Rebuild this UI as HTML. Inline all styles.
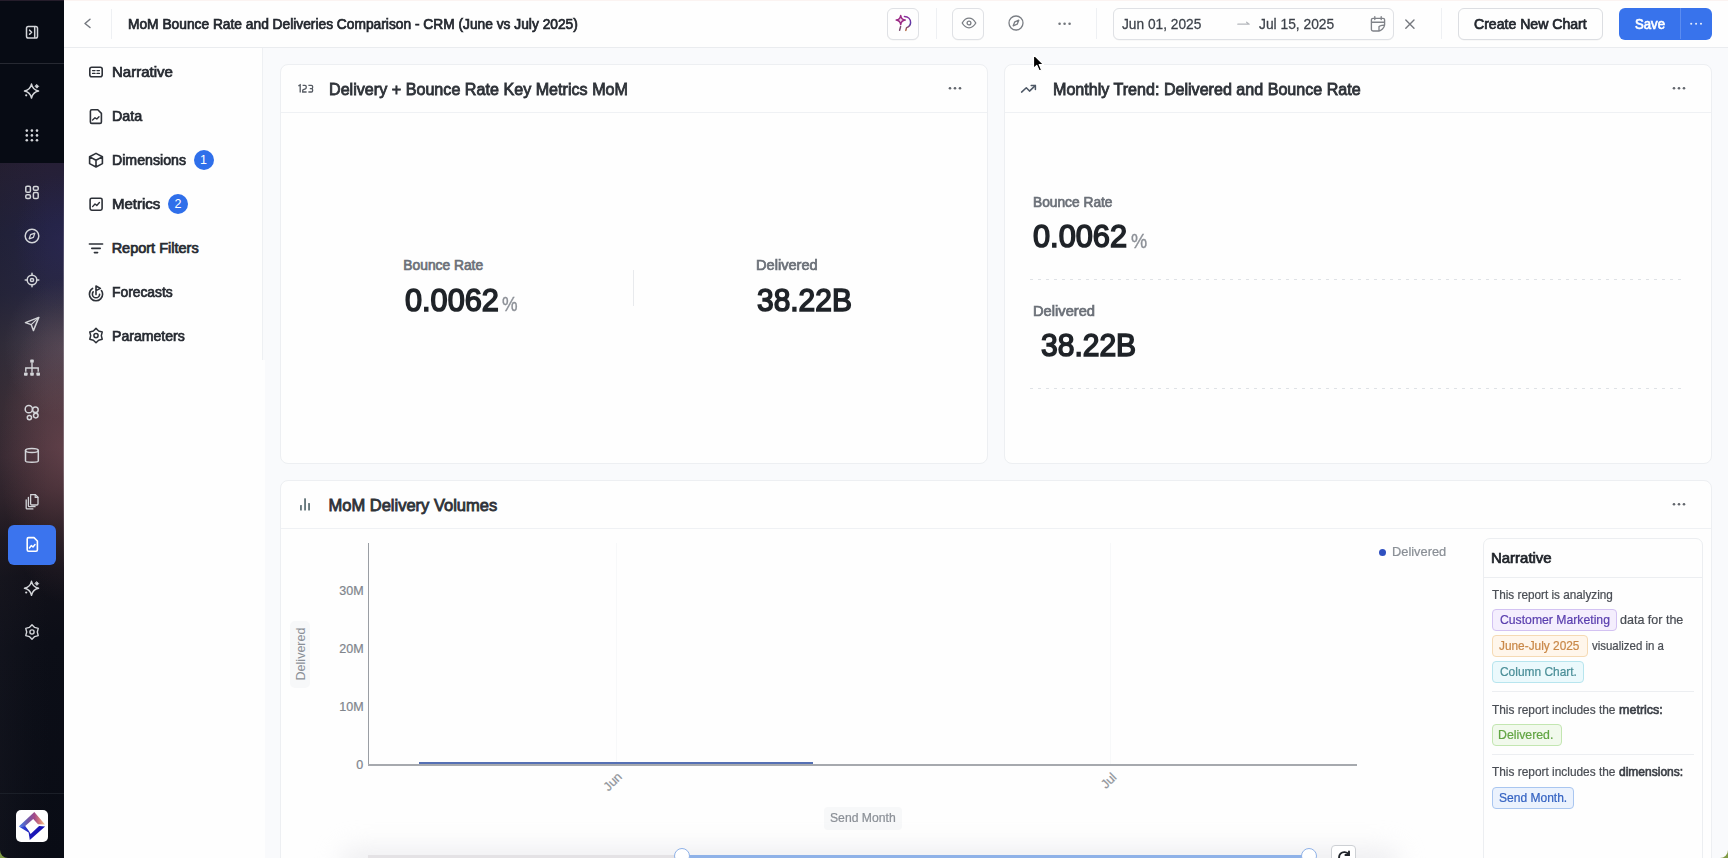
<!DOCTYPE html>
<html><head><meta charset="utf-8">
<style>
*{box-sizing:border-box;margin:0;padding:0}
html,body{width:1728px;height:858px;overflow:hidden;font-family:"Liberation Sans",sans-serif;background:#f9fafc;color:#1f2329;position:relative}
.abs{position:absolute}
.t{position:absolute;line-height:1;white-space:nowrap;transform-origin:0 0}
svg{position:absolute;overflow:visible}
#side{position:absolute;left:0;top:0;width:64px;height:858px;background:#070b14;overflow:hidden}
#grad{position:absolute;left:0;top:163px;width:64px;height:695px;
 background:linear-gradient(170deg,#271f35 0px,#22223f 70px,#27263f 130px,#37313f 180px,#42323a 240px,#432f37 290px,#35252c 330px,#1e171d 370px,#121119 410px,#0c0e17 480px,#090c15 695px)}
#grad2{position:absolute;left:0;top:163px;width:64px;height:695px;
 background:radial-gradient(ellipse 64px 150px at 64px 290px,rgba(140,90,100,0.38),rgba(140,90,100,0) 100%),radial-gradient(ellipse 60px 70px at 64px 185px,rgba(150,135,150,0.22),rgba(150,135,150,0) 100%),radial-gradient(ellipse 50px 70px at 64px 80px,rgba(60,50,140,0.18),rgba(60,50,140,0) 100%),linear-gradient(90deg,rgba(30,30,40,0.30) 0%,rgba(30,30,40,0.08) 50%,rgba(0,0,0,0) 75%)}
#top{position:absolute;left:64px;top:0;width:1664px;height:48px;background:#fefefe;border-bottom:1px solid #eaecef}
#lp{position:absolute;left:64px;top:48px;width:199px;height:312px;background:#fefefe;border-right:1px solid #eef0f3}
#lp2{position:absolute;left:64px;top:360px;width:200.5px;height:498px;background:#fefefe}
.card{position:absolute;background:#fefefe;border:1px solid #edeff2;border-radius:8px}
.chead{position:absolute;left:0;top:0;right:0;height:48px;border-bottom:1px solid #eff1f4}
.badge{position:absolute;width:20px;height:20px;border-radius:10px;background:#2f6fea;color:#fff;font-size:12.5px;text-align:center;line-height:20px}
.btn{position:absolute;border:1px solid #dfe1e5;border-radius:6px;background:#fefefe;box-shadow:0 0.5px 0.5px rgba(0,0,0,0.05)}
.pill{position:absolute;border-radius:4px;border:1px solid}
</style></head>
<body>
<!-- ============ SIDEBAR ============ -->
<div id="side">
  <div class="abs" style="left:0;top:0;width:64px;height:1px;background:#251d2b"></div>
  <div class="abs" style="left:0;top:63px;width:64px;height:1px;background:#262932"></div>
  <div id="grad"></div><div id="grad2"></div>
  <div class="abs" style="left:0;top:793px;width:64px;height:1px;background:#1b1f28"></div>
  <div class="abs" style="left:63px;top:170px;width:1px;height:400px;background:linear-gradient(180deg,rgba(190,185,195,0) 0%,rgba(190,185,195,0.35) 25%,rgba(190,185,195,0.35) 75%,rgba(190,185,195,0) 100%)"></div>
  <!-- active -->
  <div class="abs" style="left:8px;top:525px;width:48px;height:40px;border-radius:6px;background:#3b74ee"></div>
  <!-- logo -->
  <div class="abs" style="left:16px;top:810px;width:32px;height:32px;border-radius:5px;background:#fefefe"></div>
</div>
<svg width="64" height="858" style="left:0;top:0" fill="none" stroke="#d3d5d9" stroke-width="1.5" stroke-linecap="round" stroke-linejoin="round">
  <!-- collapse -->
  <rect x="26.5" y="26.5" width="11" height="11.5" rx="1.8"/>
  <line x1="34.7" y1="27" x2="34.7" y2="37.5"/>
  <path d="M29.6 30.2 L31.6 32.2 L29.6 34.2" stroke-width="1.6"/>
  <!-- sparkle 1 -->
  <path d="M31.50 84.10 Q32.76 89.84 38.50 91.10 Q32.76 92.36 31.50 98.10 Q30.24 92.36 24.50 91.10 Q30.24 89.84 31.50 84.10 Z" stroke-width="1.5"/>
  <path d="M36.9 84.6 L38.7 86.4 L36.9 88.2 L35.1 86.4 Z" fill="#d3d5d9" stroke-width="0.8"/>
  <circle cx="26.2" cy="95.3" r="1.1" fill="#d3d5d9" stroke="none"/>
  <!-- grid dots -->
  <g fill="#d3d5d9" stroke="none">
    <circle cx="26.8" cy="130.6" r="1.3"/><circle cx="31.9" cy="130.6" r="1.3"/><circle cx="37" cy="130.6" r="1.3"/>
    <circle cx="26.8" cy="135.4" r="1.3"/><circle cx="31.9" cy="135.4" r="1.3"/><circle cx="37" cy="135.4" r="1.3"/>
    <circle cx="26.8" cy="140.2" r="1.3"/><circle cx="31.9" cy="140.2" r="1.3"/><circle cx="37" cy="140.2" r="1.3"/>
  </g>
  <!-- dashboard -->
  <rect x="25.8" y="186.2" width="4.6" height="6" rx="1.3"/>
  <rect x="33.4" y="186.4" width="4.8" height="3.8" rx="1.3"/>
  <rect x="25.8" y="194.8" width="4.6" height="3.8" rx="1.3"/>
  <rect x="33.4" y="192.6" width="4.8" height="6" rx="1.3"/>
  <!-- compass -->
  <circle cx="32" cy="236" r="6.8"/>
  <path d="M34.8 233.2 L33.4 237.4 L29.2 238.8 L30.6 234.6 Z" stroke-width="1.3"/>
  <!-- target -->
  <circle cx="32" cy="280" r="4.8"/>
  <circle cx="32" cy="280" r="1.6"/>
  <path d="M32 273.2 v2 M32 284.8 v2 M25.2 280 h2 M36.8 280 h2"/>
  <!-- send -->
  <path d="M38.8 317.4 L25.4 322.6 L31.2 324.6 L33.4 330.6 Z"/>
  <path d="M31.2 324.6 L38.6 317.6" stroke-width="1.3"/>
  <!-- hierarchy -->
  <g fill="#d3d5d9" stroke="none">
    <rect x="30.2" y="359.6" width="3.6" height="3.2" rx="0.8"/>
    <rect x="24" y="372.4" width="3.6" height="3.4" rx="0.8"/>
    <rect x="30.2" y="372.4" width="3.6" height="3.4" rx="0.8"/>
    <rect x="36.4" y="372.4" width="3.6" height="3.4" rx="0.8"/>
  </g>
  <path d="M32 362.8 V372.4 M25.8 371.8 V368 H38.2 V371.8" stroke-width="1.4" stroke-linecap="butt" stroke-linejoin="miter"/>
  <!-- circles -->
  <circle cx="28.8" cy="409.2" r="3.6"/>
  <circle cx="35.4" cy="409.8" r="2.8"/>
  <circle cx="29.4" cy="417.6" r="2.1"/>
  <circle cx="35.8" cy="415.6" r="2.3"/>
  <!-- database -->
  <ellipse cx="31.9" cy="450.6" rx="6.4" ry="2"/>
  <path d="M25.5 450.6 V461 C25.5 462.6 38.3 462.6 38.3 461 V450.6"/>
  <!-- copies -->
  <path d="M30.6 494.6 h4.8 l2.6 2.6 v6.6 c0 0.8 -0.4 1.2 -1.2 1.2 h-5 c-0.8 0 -1.2 -0.4 -1.2 -1.2 v-8 c0 -0.8 0.4 -1.2 1 -1.2 z" stroke-width="1.3"/>
  <path d="M35.2 494.8 v2.6 h2.6" stroke-width="1.2"/>
  <path d="M28.4 497.4 v8.4 c0 0.6 0.3 0.9 0.9 0.9 h5.8" stroke-width="1.3"/>
  <path d="M26.2 499.8 v8.2 c0 0.6 0.3 0.9 0.9 0.9 h5.8" stroke-width="1.3"/>
  <!-- active doc -->
  <path d="M28.6 537.6 h5.4 l3.4 3.4 v8.8 c0 0.9 -0.5 1.4 -1.4 1.4 h-7.4 c-0.9 0 -1.4 -0.5 -1.4 -1.4 v-10.8 c0 -0.9 0.5 -1.4 1.4 -1.4 z" stroke="#ffffff" stroke-width="1.6"/>
  <path d="M29.4 548 l2 -2.4 l1.6 1.4 l2 -2.4" stroke="#ffffff" stroke-width="1.5"/>
  <!-- sparkle 2 -->
  <path d="M31.50 581.30 Q32.76 587.04 38.50 588.30 Q32.76 589.56 31.50 595.30 Q30.24 589.56 24.50 588.30 Q30.24 587.04 31.50 581.30 Z" stroke-width="1.5"/>
  <path d="M36.9 581.8 L38.7 583.6 L36.9 585.4 L35.1 583.6 Z" fill="#d3d5d9" stroke-width="0.8"/>
  <circle cx="26.2" cy="592.5" r="1.1" fill="#d3d5d9" stroke="none"/>
  <!-- gear -->
  <path d="M32.00 624.80 L34.65 627.41 L38.24 628.40 L37.30 632.00 L38.24 635.60 L34.65 636.59 L32.00 639.20 L29.35 636.59 L25.76 635.60 L26.70 632.00 L25.76 628.40 L29.35 627.41 Z" stroke-width="1.4"/>
  <circle cx="32" cy="632" r="2.1" stroke-width="1.4"/>
</svg>
<!-- logo mark -->
<svg width="32" height="32" style="left:16px;top:810px" stroke="none">
  <defs>
    <linearGradient id="lg1" x1="2.8" y1="0" x2="29" y2="0" gradientUnits="userSpaceOnUse"><stop offset="0" stop-color="#3d78ee"/><stop offset="0.35" stop-color="#7058a8"/><stop offset="0.6" stop-color="#a44a88"/><stop offset="0.8" stop-color="#d47c7c"/><stop offset="1" stop-color="#f6d290"/></linearGradient>
    <linearGradient id="lg2" x1="2.8" y1="0" x2="29" y2="0" gradientUnits="userSpaceOnUse"><stop offset="0" stop-color="#3a5ee0"/><stop offset="0.45" stop-color="#1c18b8"/><stop offset="1" stop-color="#1210b0"/></linearGradient>
  </defs>
  <path d="M2.8 16.4 L18.3 2 L29 14.6 L22 14.2 L17.2 9 L9.2 16 Z" fill="url(#lg1)"/>
  <path d="M2.8 16.4 L9.2 16 L12.9 20.9 L14.6 23.9 L23.1 16 L29.1 16.4 L13.8 29.9 L12.6 22.6 Z" fill="url(#lg2)"/>
</svg>

<!-- ============ TOPBAR ============ -->
<div id="top"></div>
<div class="abs" style="left:0;top:0;width:1728px;height:1px;background:#fbf3f1;left:64px"></div>
<svg width="20" height="20" style="left:80px;top:14px" fill="none" stroke="#74787f" stroke-width="1.5" stroke-linecap="round" stroke-linejoin="round">
  <path d="M10 5.3 L5 9.5 L10 13.5"/>
</svg>
<div class="abs" style="left:111px;top:9px;width:1px;height:30px;background:#eef0f3"></div>

<div class="btn" style="left:887px;top:7.5px;width:32px;height:32px"></div>
<svg width="20" height="20" style="left:893px;top:13px" fill="none" stroke-linecap="round" stroke-linejoin="round">
  <defs><linearGradient id="ag" x1="0" y1="0" x2="0" y2="1"><stop offset="0" stop-color="#8a2f9e"/><stop offset="0.55" stop-color="#5a3aa8"/><stop offset="1" stop-color="#b0603a"/></linearGradient></defs>
  <path d="M7.7 2.6 Q8.3 6.5 12.2 7.1 Q8.3 7.7 7.7 11.6 Q7.1 7.7 3.2 7.1 Q7.1 6.5 7.7 2.6 Z" fill="#f4d8ee" stroke="#9b2a85" stroke-width="1.5"/>
  <path d="M11.4 3.4 C15 3.6 17.8 6 17.6 9.6 C17.4 12.4 15.6 14 13.6 14.6 L12.8 17.4" stroke="url(#ag)" stroke-width="1.5"/>
  <path d="M7.6 13.6 L6.6 17.2" stroke="#7a4a70" stroke-width="1.5"/>
</svg>
<div class="abs" style="left:936px;top:8px;width:1px;height:31px;background:#eef0f3"></div>
<div class="btn" style="left:952px;top:7.5px;width:32px;height:32px"></div>
<svg width="20" height="20" style="left:958.5px;top:13px" fill="none" stroke="#7a7e84" stroke-width="1.3" stroke-linecap="round" stroke-linejoin="round">
  <path d="M3.2 10 C5.2 6.6 7.4 5.2 10 5.2 C12.6 5.2 14.8 6.6 16.8 10 C14.8 13.4 12.6 14.8 10 14.8 C7.4 14.8 5.2 13.4 3.2 10 Z"/>
  <circle cx="10" cy="10" r="1.9"/>
</svg>
<svg width="20" height="20" style="left:1006.4px;top:13.4px" fill="none" stroke="#7a7e84" stroke-width="1.3" stroke-linecap="round" stroke-linejoin="round">
  <circle cx="10" cy="10" r="7"/>
  <path d="M12.8 7.2 L11.2 11.2 L7.2 12.8 L8.8 8.8 Z"/>
</svg>
<svg width="20" height="10" style="left:1054.5px;top:18.5px" fill="#72767c" stroke="none">
  <circle cx="4.6" cy="4.7" r="1.3"/><circle cx="9.6" cy="4.7" r="1.3"/><circle cx="14.6" cy="4.7" r="1.3"/>
</svg>
<div class="abs" style="left:1096px;top:8px;width:1px;height:31px;background:#eef0f3"></div>
<div class="btn" style="left:1113px;top:7.5px;width:281px;height:32px"></div>
<svg width="20" height="10" style="left:1235px;top:19px" fill="none" stroke="#b4b7bc" stroke-width="1.2" stroke-linecap="round">
  <path d="M2.8 5.2 H14.2 M11.6 3.2 L14.2 5.2"/>
</svg>
<svg width="20" height="20" style="left:1367.5px;top:13.5px" fill="none" stroke="#808389" stroke-width="1.35" stroke-linecap="round" stroke-linejoin="round">
  <path d="M16.6 11 V5.8 C16.6 4.8 16 4.4 15 4.4 H5 C4 4.4 3.4 4.8 3.4 5.8 V15.6 C3.4 16.6 4 17 5 17 H11 M3.4 8.2 H16.6 M6.8 2.6 V5.6 M13.2 2.6 V5.6 M11 17 C13 16.8 16.4 13.8 16.6 11 C14.8 11.2 11.8 11.2 11 12.6 Z"/>
</svg>
<svg width="20" height="20" style="left:1399.5px;top:13.5px" fill="none" stroke="#76797f" stroke-width="1.4" stroke-linecap="round">
  <path d="M5.8 6 L14 14.2 M14 6 L5.8 14.2"/>
</svg>
<div class="abs" style="left:1441px;top:8px;width:1px;height:31px;background:#eef0f3"></div>
<div class="btn" style="left:1458px;top:7.5px;width:145px;height:32px;border-color:#dcdee2"></div>
<div class="abs" style="left:1619px;top:7.5px;width:93px;height:32px;border-radius:6px;background:#3873ec"></div>
<div class="abs" style="left:1680px;top:8px;width:1px;height:31px;background:#5b8cf0"></div>
<svg width="20" height="10" style="left:1686px;top:19px" fill="#e3ebfc" stroke="none">
  <circle cx="5.2" cy="4.8" r="1.05"/><circle cx="10.1" cy="4.8" r="1.05"/><circle cx="15" cy="4.8" r="1.05"/>
</svg>

<!-- ============ LEFT PANEL ============ -->
<div id="lp"></div><div id="lp2"></div>
<svg width="200" height="300" style="left:64px;top:48px" fill="none" stroke="#2d3138" stroke-width="1.6" stroke-linecap="round" stroke-linejoin="round">
  <!-- narrative -->
  <rect x="25.8" y="19.2" width="12.4" height="9.6" rx="2"/>
  <path d="M28.6 22.6 h2.4 M33 22.6 h2.4 M28.6 25.4 h2.4 M33 25.4 h2.4" stroke-width="1.4"/>
  <!-- data -->
  <path d="M27.8 61.8 h6 l3.6 3.6 v8.6 c0 0.9 -0.5 1.4 -1.4 1.4 h-8.2 c-0.9 0 -1.4 -0.5 -1.4 -1.4 v-10.8 c0 -0.9 0.5 -1.4 1.4 -1.4 z"/>
  <path d="M28.6 72 l2.4 -2.2 l1.8 1.2 l2.2 -2.2" stroke-width="1.4"/>
  <!-- cube -->
  <path d="M32 105.4 L38.4 108.8 V115.6 L32 119 L25.6 115.6 V108.8 Z M25.8 108.9 L32 112.2 L38.2 108.9 M32 112.2 V118.8"/>
  <!-- metrics -->
  <rect x="26.1" y="150.2" width="12" height="12" rx="1.6"/>
  <path d="M28.6 158.6 l2.4 -2.6 l1.8 1.4 l2.6 -2.8" stroke-width="1.4"/>
  <!-- filters -->
  <path d="M25.4 196 H38.6 M27.8 200.4 H36.2 M30.4 204.6 H33.6" stroke-width="1.6"/>
  <!-- forecasts -->
  <path d="M28.6 240.4 C26.6 241.6 25.4 243.8 25.4 246.2 C25.4 249.8 28.4 252.8 32 252.8 C35.6 252.8 38.6 249.8 38.6 246.2 C38.6 244.8 38.2 243.6 37.4 242.6"/>
  <path d="M29.2 243.8 C28.6 244.6 28.4 245.4 28.4 246.2 C28.4 248.2 30 249.8 32 249.8 C34 249.8 35.6 248.2 35.6 246.2"/>
  <path d="M32 246.6 V238 L36.4 240.4 L32 242.6"/>
  <!-- gear -->
  <path d="M32.00 280.40 L34.65 283.01 L38.24 284.00 L37.30 287.60 L38.24 291.20 L34.65 292.19 L32.00 294.80 L29.35 292.19 L25.76 291.20 L26.70 287.60 L25.76 284.00 L29.35 283.01 Z" stroke-width="1.5"/>
  <circle cx="32" cy="287.6" r="2.1" stroke-width="1.5"/>
</svg>
<div class="badge" style="left:193.5px;top:150px">1</div>
<div class="badge" style="left:168px;top:194px">2</div>

<!-- ============ CARDS ============ -->
<div class="card" style="left:280px;top:64px;width:708px;height:400px"><div class="chead"></div></div>
<div class="card" style="left:1004px;top:64px;width:708px;height:400px"><div class="chead"></div></div>
<div class="card" style="left:280px;top:480px;width:1432px;height:390px"><div class="chead"></div></div>

<!-- card icons -->
<svg width="20" height="14" style="left:296px;top:82px" fill="none" stroke="#555a62" stroke-width="1.3" stroke-linejoin="miter" stroke-linecap="butt">
  <path d="M2.4 3.8 L4.2 2.9 V10.6"/>
  <path d="M6.6 3.3 H9 C9.8 3.3 10.2 3.7 10.2 4.5 V5.7 C10.2 6.3 9.9 6.6 9.4 6.8 L7.4 7.6 C6.9 7.8 6.7 8.1 6.7 8.6 V10 H10.6"/>
  <path d="M12.4 3.3 H15.4 C16.2 3.3 16.6 3.7 16.6 4.5 V5.4 C16.6 6.2 16.2 6.6 15.4 6.6 H13.8 M15.4 6.6 C16.2 6.6 16.6 7 16.6 7.8 V8.8 C16.6 9.6 16.2 10 15.4 10 H12.4"/>
</svg>
<svg width="16" height="8" style="left:946px;top:84px" fill="#62666d"><circle cx="4" cy="4.2" r="1.3"/><circle cx="9" cy="4.2" r="1.3"/><circle cx="14" cy="4.2" r="1.3"/></svg>
<svg width="20" height="14" style="left:1019px;top:81px" fill="none" stroke="#4e5866" stroke-width="1.5" stroke-linecap="round" stroke-linejoin="round">
  <path d="M2.6 11.1 L7.3 6.7 L10.5 10.1 L16.2 4.6"/><path d="M12.2 4.4 H16.4 V8.4"/>
</svg>
<svg width="16" height="8" style="left:1670px;top:84px" fill="#62666d"><circle cx="4" cy="4.2" r="1.3"/><circle cx="9" cy="4.2" r="1.3"/><circle cx="14" cy="4.2" r="1.3"/></svg>
<svg width="16" height="16" style="left:296px;top:497px" fill="#56696f" stroke="none">
  <rect x="4.1" y="8" width="1.7" height="5.6" rx="0.5"/><rect x="8.2" y="1.3" width="1.7" height="12.3" rx="0.5"/><rect x="12.2" y="6" width="1.7" height="7.6" rx="0.5"/>
</svg>
<svg width="16" height="8" style="left:1670px;top:500px" fill="#62666d"><circle cx="4" cy="4.2" r="1.3"/><circle cx="9" cy="4.2" r="1.3"/><circle cx="14" cy="4.2" r="1.3"/></svg>

<!-- card 1 divider -->
<div class="abs" style="left:633px;top:270px;width:1px;height:36px;background:#e8eaed"></div>
<!-- card 2 dashed lines -->
<div class="abs" style="left:1030px;top:279px;width:654px;height:1px;background:repeating-linear-gradient(90deg,#dfe2e6 0 3px,transparent 3px 8px)"></div>
<div class="abs" style="left:1030px;top:388px;width:654px;height:1px;background:repeating-linear-gradient(90deg,#dfe2e6 0 3px,transparent 3px 8px)"></div>

<!-- ============ CHART ============ -->
<div class="abs" style="left:368px;top:543px;width:1px;height:222px;background:#9a9ea4"></div>
<div class="abs" style="left:368px;top:764px;width:989px;height:1.5px;background:#a6a9ae"></div>
<div class="abs" style="left:616px;top:543px;width:1px;height:221px;background:#f7f8f9"></div>
<div class="abs" style="left:1110px;top:543px;width:1px;height:221px;background:#f7f8f9"></div>
<div class="abs" style="left:419px;top:762px;width:394px;height:2px;background:#5570b4"></div>
<div class="abs" style="left:290px;top:621px;left:290px;width:20px;height:67px;border-radius:5px;background:#f7f8f9"></div>
<div class="abs" style="left:824px;top:807px;width:78px;height:23px;border-radius:4px;background:#f7f8f9"></div>
<div class="abs" style="left:1378.5px;top:548.5px;width:7px;height:7px;border-radius:4px;background:#2f50c0"></div>
<div class="t" style="left:654px;top:0;font-size:12.5px;color:#8a8f96"></div>

<!-- slider / bottom fog -->
<div class="abs" style="left:340px;top:848px;width:1060px;height:30px;border-radius:30px;background:rgba(228,229,233,0.6);filter:blur(12px)"></div>
<div class="abs" style="left:368px;top:854.5px;width:314px;height:4px;background:#e4e2e5"></div>
<div class="abs" style="left:682px;top:854.5px;width:627px;height:4px;background:#8fb2e8"></div>
<div class="abs" style="left:674px;top:848px;width:16px;height:16px;border-radius:8px;background:#fff;border:1.6px solid #8fb2e8"></div>
<div class="abs" style="left:1301px;top:848px;width:16px;height:16px;border-radius:8px;background:#fff;border:1.6px solid #8fb2e8"></div>
<div class="abs" style="left:1330.5px;top:844.5px;width:25px;height:24px;border-radius:4px;background:#fff;border:1.3px solid #cdd0d4"></div>
<svg width="20" height="20" style="left:1333.5px;top:847px" fill="none" stroke="#1f2329" stroke-width="1.9" stroke-linecap="round"><path d="M14.6 7.4 A5.2 5.2 0 1 0 15.2 12"/><path d="M15 4.4 V8 H11.4"/></svg>

<!-- narrative box -->
<div class="abs" style="left:1483px;top:537.5px;width:220px;height:340px;border:1px solid #eceef1;border-radius:7px;background:#fefefe"></div>
<div class="abs" style="left:1484px;top:577px;width:218px;height:1px;background:#eceef1"></div>
<div class="abs" style="left:1492px;top:691px;width:202px;height:1px;background:#eceef1"></div>
<div class="abs" style="left:1492px;top:754px;width:202px;height:1px;background:#eceef1"></div>
<div class="pill" style="left:1492px;top:609px;width:125px;height:22px;background:#f4eefd;border-color:#d3c2f2"></div>
<div class="pill" style="left:1492px;top:635px;width:96px;height:22px;background:#fff6eb;border-color:#f5dab4"></div>
<div class="pill" style="left:1492px;top:661px;width:92px;height:22px;background:#ebf9fc;border-color:#b7e5ee"></div>
<div class="pill" style="left:1492px;top:724px;width:70px;height:22px;background:#f1f9ec;border-color:#c3e6b1"></div>
<div class="pill" style="left:1492px;top:787px;width:82px;height:22px;background:#ebf2fd;border-color:#a9c6f0"></div>

<div class="t" style="left:127.58px;top:16.57px;font-size:14.5px;font-weight:normal;color:#23272e;-webkit-text-stroke:0.73px #23272e;transform:scaleX(0.9493);">MoM Bounce Rate and Deliveries Comparison - CRM (June vs July 2025)</div>
<div class="t" style="left:1121.68px;top:16.78px;font-size:14.5px;font-weight:normal;color:#3d424a;-webkit-text-stroke:0.26px #3d424a;transform:scaleX(0.9462);">Jun 01, 2025</div>
<div class="t" style="left:1259.49px;top:16.78px;font-size:14.5px;font-weight:normal;color:#3d424a;-webkit-text-stroke:0.26px #3d424a;transform:scaleX(0.9521);">Jul 15, 2025</div>
<div class="t" style="left:1473.73px;top:16.68px;font-size:14.5px;font-weight:normal;color:#23272e;-webkit-text-stroke:0.73px #23272e;transform:scaleX(0.9707);">Create New Chart</div>
<div class="t" style="left:1634.72px;top:16.68px;font-size:14.5px;font-weight:normal;color:#ffffff;-webkit-text-stroke:0.73px #ffffff;transform:scaleX(0.9075);">Save</div>
<div class="t" style="left:111.71px;top:64.97px;font-size:14.5px;font-weight:normal;color:#262a31;-webkit-text-stroke:0.73px #262a31;transform:scaleX(1.0358);">Narrative</div>
<div class="t" style="left:111.76px;top:108.97px;font-size:14.5px;font-weight:normal;color:#262a31;-webkit-text-stroke:0.73px #262a31;transform:scaleX(0.9863);">Data</div>
<div class="t" style="left:111.74px;top:152.98px;font-size:14.5px;font-weight:normal;color:#262a31;-webkit-text-stroke:0.73px #262a31;transform:scaleX(0.9765);">Dimensions</div>
<div class="t" style="left:111.67px;top:196.98px;font-size:14.5px;font-weight:normal;color:#262a31;-webkit-text-stroke:0.73px #262a31;transform:scaleX(1.0352);">Metrics</div>
<div class="t" style="left:111.63px;top:240.98px;font-size:14.5px;font-weight:normal;color:#262a31;-webkit-text-stroke:0.73px #262a31;">Report Filters</div>
<div class="t" style="left:111.79px;top:284.98px;font-size:14.5px;font-weight:normal;color:#262a31;-webkit-text-stroke:0.73px #262a31;transform:scaleX(0.9537);">Forecasts</div>
<div class="t" style="left:111.75px;top:328.98px;font-size:14.5px;font-weight:normal;color:#262a31;-webkit-text-stroke:0.73px #262a31;transform:scaleX(0.9723);">Parameters</div>
<div class="t" style="left:328.97px;top:80.57px;font-size:16.5px;font-weight:normal;color:#2e3238;-webkit-text-stroke:0.83px #2e3238;transform:scaleX(0.9777);">Delivery + Bounce Rate Key Metrics MoM</div>
<div class="t" style="left:1052.77px;top:80.57px;font-size:16.5px;font-weight:normal;color:#2e3238;-webkit-text-stroke:0.83px #2e3238;transform:scaleX(0.9752);">Monthly Trend: Delivered and Bounce Rate</div>
<div class="t" style="left:328.51px;top:496.68px;font-size:16.5px;font-weight:normal;color:#2e3238;-webkit-text-stroke:0.83px #2e3238;">MoM Delivery Volumes</div>
<div class="t" style="left:403.34px;top:258.87px;font-size:13.8px;font-weight:normal;color:#6b7078;-webkit-text-stroke:0.69px #6b7078;">Bounce Rate</div>
<div class="t" style="left:404.57px;top:283.50px;font-size:32px;font-weight:normal;color:#1f2328;-webkit-text-stroke:1.60px #1f2328;transform:scaleX(0.9594);">0.0062</div>
<div class="t" style="left:502.39px;top:293.70px;font-size:20px;font-weight:normal;color:#8c9097;-webkit-text-stroke:0.36px #8c9097;transform:scaleX(0.8749);">%</div>
<div class="t" style="left:756.06px;top:258.87px;font-size:13.8px;font-weight:normal;color:#6b7078;-webkit-text-stroke:0.69px #6b7078;transform:scaleX(1.0595);">Delivered</div>
<div class="t" style="left:757.40px;top:283.60px;font-size:32px;font-weight:normal;color:#1f2328;-webkit-text-stroke:1.60px #1f2328;transform:scaleX(0.9356);">38.22B</div>
<div class="t" style="left:1032.67px;top:195.67px;font-size:13.8px;font-weight:normal;color:#6b7078;-webkit-text-stroke:0.69px #6b7078;transform:scaleX(0.9965);">Bounce Rate</div>
<div class="t" style="left:1033.13px;top:220.82px;font-size:31.5px;font-weight:normal;color:#1f2328;-webkit-text-stroke:1.58px #1f2328;transform:scaleX(0.9765);">0.0062</div>
<div class="t" style="left:1131.39px;top:230.60px;font-size:20px;font-weight:normal;color:#8c9097;-webkit-text-stroke:0.36px #8c9097;transform:scaleX(0.9084);">%</div>
<div class="t" style="left:1032.64px;top:305.07px;font-size:13.8px;font-weight:normal;color:#6b7078;-webkit-text-stroke:0.69px #6b7078;transform:scaleX(1.0641);">Delivered</div>
<div class="t" style="left:1041.19px;top:330.03px;font-size:31.5px;font-weight:normal;color:#1f2328;-webkit-text-stroke:1.58px #1f2328;transform:scaleX(0.9530);">38.22B</div>
<div class="t" style="left:339.30px;top:584.88px;font-size:12.5px;font-weight:normal;color:#80858c;-webkit-text-stroke:0.22px #80858c;">30M</div>
<div class="t" style="left:339.30px;top:642.78px;font-size:12.5px;font-weight:normal;color:#80858c;-webkit-text-stroke:0.22px #80858c;">20M</div>
<div class="t" style="left:339.30px;top:700.58px;font-size:12.5px;font-weight:normal;color:#80858c;-webkit-text-stroke:0.22px #80858c;">10M</div>
<div class="t" style="left:356.20px;top:758.58px;font-size:12.5px;font-weight:normal;color:#80858c;-webkit-text-stroke:0.22px #80858c;">0</div>
<div class="t" style="left:1392.44px;top:545.67px;font-size:12.5px;font-weight:normal;color:#8a8f96;-webkit-text-stroke:0.22px #8a8f96;transform:scaleX(1.0263);">Delivered</div>
<div class="t" style="left:830.45px;top:811.88px;font-size:12.5px;font-weight:normal;color:#8a8f96;-webkit-text-stroke:0.22px #8a8f96;transform:scaleX(0.9745);">Send Month</div>
<div class="t" style="left:1490.91px;top:550.67px;font-size:14.5px;font-weight:normal;color:#1f2329;-webkit-text-stroke:0.73px #1f2329;transform:scaleX(1.0314);">Narrative</div>
<div class="t" style="left:1492.02px;top:588.82px;font-size:12.8px;font-weight:normal;color:#4a4e55;-webkit-text-stroke:0.23px #4a4e55;transform:scaleX(0.9188);">This report is analyzing</div>
<div class="t" style="left:1499.62px;top:613.52px;font-size:12.8px;font-weight:normal;color:#5a3fae;-webkit-text-stroke:0.23px #5a3fae;transform:scaleX(0.9541);">Customer Marketing</div>
<div class="t" style="left:1620.07px;top:613.52px;font-size:12.8px;font-weight:normal;color:#4a4e55;-webkit-text-stroke:0.23px #4a4e55;transform:scaleX(0.9779);">data for the</div>
<div class="t" style="left:1499.38px;top:639.72px;font-size:12.8px;font-weight:normal;color:#c98848;-webkit-text-stroke:0.23px #c98848;transform:scaleX(0.9269);">June-July 2025</div>
<div class="t" style="left:1592.39px;top:639.72px;font-size:12.8px;font-weight:normal;color:#4a4e55;-webkit-text-stroke:0.23px #4a4e55;transform:scaleX(0.8942);">visualized in a</div>
<div class="t" style="left:1499.83px;top:665.92px;font-size:12.8px;font-weight:normal;color:#4b8f98;-webkit-text-stroke:0.23px #4b8f98;transform:scaleX(0.9322);">Column Chart.</div>
<div class="t" style="left:1491.83px;top:703.62px;font-size:12.8px;font-weight:normal;color:#4a4e55;-webkit-text-stroke:0.23px #4a4e55;transform:scaleX(0.9282);">This report includes the</div>
<div class="t" style="left:1618.97px;top:703.62px;font-size:12.8px;font-weight:normal;color:#3a3e45;-webkit-text-stroke:0.64px #3a3e45;transform:scaleX(0.9791);">metrics:</div>
<div class="t" style="left:1498.40px;top:728.92px;font-size:12.8px;font-weight:normal;color:#62a544;-webkit-text-stroke:0.23px #62a544;transform:scaleX(0.9610);">Delivered.</div>
<div class="t" style="left:1491.83px;top:766.22px;font-size:12.8px;font-weight:normal;color:#4a4e55;-webkit-text-stroke:0.23px #4a4e55;transform:scaleX(0.9282);">This report includes the</div>
<div class="t" style="left:1618.63px;top:766.22px;font-size:12.8px;font-weight:normal;color:#3a3e45;-webkit-text-stroke:0.64px #3a3e45;transform:scaleX(0.9391);">dimensions:</div>
<div class="t" style="left:1499.24px;top:791.52px;font-size:12.8px;font-weight:normal;color:#3563c2;-webkit-text-stroke:0.23px #3563c2;transform:scaleX(0.9396);">Send Month.</div>

<!-- rotated labels -->
<div class="t" style="left:300.5px;top:654px;font-size:12.5px;color:#8a8f96;transform:translate(-50%,-50%) rotate(-90deg);transform-origin:50% 50%">Delivered</div>
<div class="t" style="left:613.2px;top:782px;font-size:12.5px;color:#8f9399;-webkit-text-stroke:0.25px #8f9399;transform:translate(-50%,-50%) rotate(-45deg);transform-origin:50% 50%">Jun</div>
<div class="t" style="left:1108.8px;top:780.5px;font-size:12.5px;color:#8f9399;-webkit-text-stroke:0.25px #8f9399;transform:translate(-50%,-50%) rotate(-45deg);transform-origin:50% 50%">Jul</div>

<!-- window corners -->
<svg width="1728" height="858" style="left:0;top:0" stroke="none" fill="#7f9a45">
  <path d="M0 850 V858 H8 A8 8 0 0 1 0 850 Z"/>
  <path d="M1728 850 V858 H1720 A8 8 0 0 0 1728 850 Z"/>
</svg>
<!-- cursor -->
<svg width="16" height="22" style="left:1032px;top:53px">
  <path d="M1.5 1.5 L1.5 15.5 L4.8 12.4 L7.3 18 L9.6 17 L7.2 11.6 L11.6 11.6 Z" fill="#000" stroke="#fff" stroke-width="1.2" stroke-linejoin="round"/>
</svg>
</body></html>
